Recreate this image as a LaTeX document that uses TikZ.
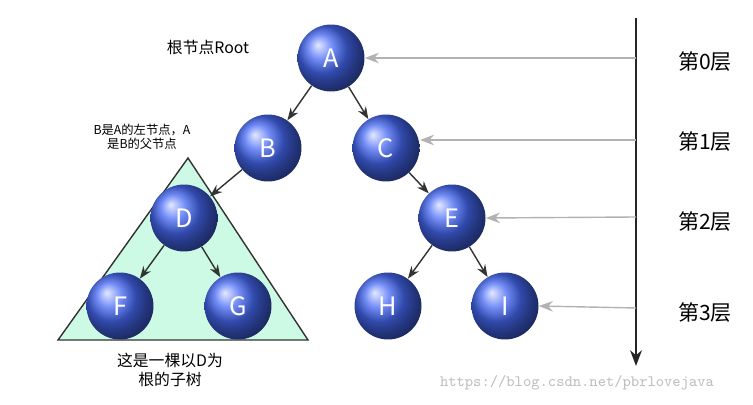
\documentclass[tikz,border=0pt]{standalone}
\usepackage{fontspec}
\setmainfont{Noto Sans CJK SC}
\usetikzlibrary{arrows.meta}
\definecolor{nodeblue}{RGB}{70,105,245}
\definecolor{mint}{RGB}{205,250,228}

\begin{document}
\begin{tikzpicture}
    [
      x=0.02cm, y=-0.02cm,
      ball/.style={circle, minimum size=1.34cm, inner sep=0pt, text=white,
        font=\Large, ball color=nodeblue, shading=ball},
      link/.style={-{Stealth[length=7pt]}, thick, black!80},
      level/.style={-{Stealth[length=8pt]}, gray!60, thick}
    ]
    \useasboundingbox (0,0) rectangle (753,405);
    \filldraw[fill=mint, draw=black!80, thick] (188,158) -- (58,340) -- (308,340) -- cycle;
    % tree
    \node[ball] (A) at (331,58) {A};
    \node[ball] (B) at (268,148) {B};
    \node[ball] (C) at (386,148) {C};
    \node[ball] (D) at (184,218) {D};
    \node[ball] (E) at (452,218) {E};
    \node[ball] (F) at (120,306) {F};
    \node[ball] (G) at (238,306) {G};
    \node[ball] (H) at (388,306) {H};
    \node[ball] (I) at (505,306) {I};
    \draw[link] (A) -- (B);
    \draw[link] (A) -- (C);
    \draw[link] (B) -- (D);
    \draw[link] (C) -- (E);
    \draw[link] (D) -- (F);
    \draw[link] (D) -- (G);
    \draw[link] (E) -- (H);
    \draw[link] (E) -- (I);
    % levels
    \coordinate (top) at (636,18);
    \coordinate (bottom) at (636,366);
    \draw[-{Stealth[length=9pt]}, thick, black!85] (top) -- (bottom);
    \coordinate (l0) at (636,58);
    \coordinate (l1) at (636,140);
    \coordinate (l2) at (636,217);
    \coordinate (l3) at (636,308);
    \draw[level] (l0) -- (A.east);
    \draw[level] (l1) -- (420,140);
    \draw[level] (l2) -- (E.east);
    \draw[level] (l3) -- (I.east);
    \node[font=\large] (t0) at (705,62) {第0层};
    \node[font=\large] (t1) at (705,142) {第1层};
    \node[font=\large] (t2) at (705,222) {第2层};
    \node[font=\large] (t3) at (705,313) {第3层};
    % notes
    \node[font=\small] (root) at (208,47) {根节点Root};
    \node[font=\scriptsize, align=center] (left) at (142,137) {B是A的左节点，A\\是B的父节点};
    \node[font=\small, align=center] (sub) at (170,370) {这是一棵以D为\\根的子树};
    \node[font=\ttfamily\small, text=gray!50] (mark) at (577,383) {https://blog.csdn.net/pbrlovejava};
\end{tikzpicture}
\end{document}
